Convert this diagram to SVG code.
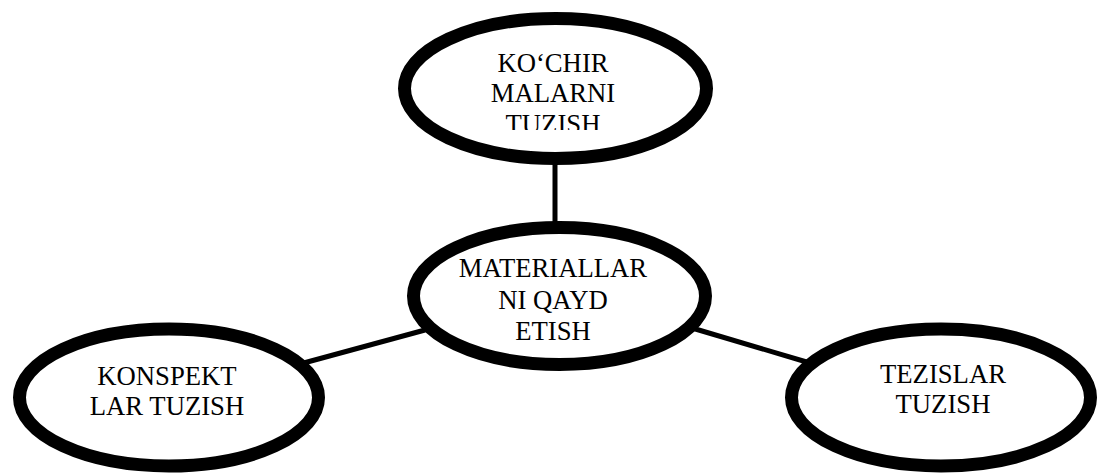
<svg xmlns="http://www.w3.org/2000/svg" width="1099" height="476" viewBox="0 0 1099 476">
<style>
.node ellipse{fill:#fff;stroke:#000;stroke-width:13}
.lbl{font-family:"Liberation Serif","Times New Roman",serif;font-size:26.7px;fill:#000;text-anchor:middle}
.conn line{stroke:#000;stroke-width:5}
</style>
<defs>
<clipPath id="clipTop"><rect x="400" y="30" width="310" height="100"/></clipPath>
</defs>
<rect width="1099" height="476" fill="#fff"/>
<g id="connectors" class="conn">
<line x1="555" y1="160" x2="555" y2="226"/>
<line x1="300" y1="364" x2="425" y2="330"/>
<line x1="692" y1="328" x2="810" y2="363"/>
</g>
<g id="node-top" class="node">
<ellipse cx="555.5" cy="88.5" rx="151" ry="70"/>
<g clip-path="url(#clipTop)">
<text class="lbl" x="553" y="72">KO‘CHIR</text>
<text class="lbl" x="553" y="102">MALARNI</text>
<text class="lbl" x="553" y="133">TUZISH</text>
</g>
</g>
<g id="node-center" class="node">
<ellipse cx="559.5" cy="296" rx="146" ry="68.5"/>
<text class="lbl" x="553" y="277">MATERIALLAR</text>
<text class="lbl" x="553" y="309">NI QAYD</text>
<text class="lbl" x="553" y="340">ETISH</text>
</g>
<g id="node-left" class="node">
<ellipse cx="169" cy="397.5" rx="149.5" ry="68.5"/>
<text class="lbl" x="167" y="385">KONSPEKT</text>
<text class="lbl" x="167" y="415">LAR TUZISH</text>
</g>
<g id="node-right" class="node">
<ellipse cx="941" cy="397.5" rx="149.5" ry="68.5"/>
<text class="lbl" x="943" y="383">TEZISLAR</text>
<text class="lbl" x="943" y="413">TUZISH</text>
</g>
</svg>
